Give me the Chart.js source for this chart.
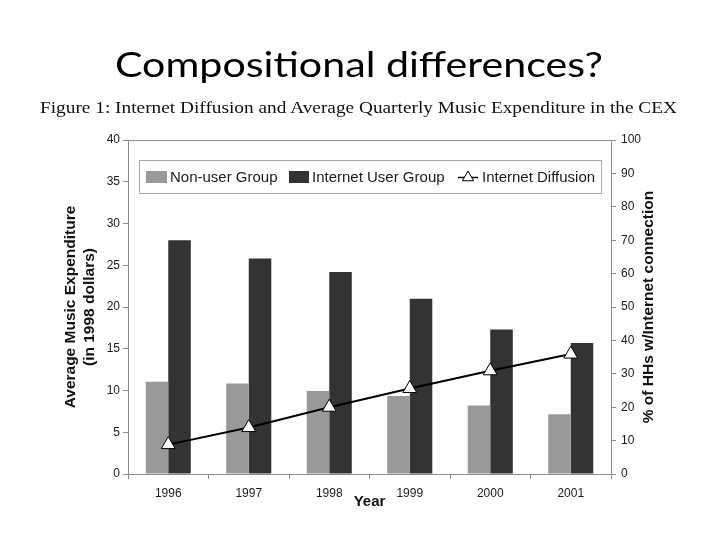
<!DOCTYPE html>
<html><head><meta charset="utf-8">
<script src="https://cdn.jsdelivr.net/npm/chart.js@4.4.0/dist/chart.umd.min.js"></script>
<style>
html,body{margin:0;padding:0;background:#fff;}
#wrap{position:relative;width:720px;height:540px;overflow:hidden;background:#fff;}
#c{position:absolute;left:0;top:0;}
#txt{position:absolute;left:0;top:0;pointer-events:none;}
</style></head>
<body><div id="wrap">
<canvas id="c" width="720" height="540"></canvas>
<svg id="txt" width="720" height="540" xmlns="http://www.w3.org/2000/svg">
  <text x="115" y="77" textLength="488" lengthAdjust="spacingAndGlyphs" font-family="Lato, 'Open Sans', sans-serif" font-size="34" fill="#000">Compositional differences?</text>
  <text x="40" y="113" textLength="637" lengthAdjust="spacingAndGlyphs" font-family="'Liberation Serif', 'DejaVu Serif', serif" font-size="17" fill="#111">Figure 1: Internet Diffusion and Average Quarterly Music Expenditure in the CEX</text>
</svg>
</div>
<script>
const years = ['1996', '1997', '1998', '1999', '2000', '2001'];
const nonUserGroup = [11.05, 10.85, 9.95, 9.35, 8.2, 7.15];
const internetUserGroup = [28.0, 25.8, 24.2, 21.0, 17.3, 15.7];
const internetDiffusion = [8.8, 13.9, 20.0, 25.6, 30.9, 35.9];
const leftTicks = {min: 0, max: 40, step: 5};
const rightTicks = {min: 0, max: 100, step: 10};
const seriesLabels = ['Non-user Group', 'Internet User Group', 'Internet Diffusion'];
const leftTitle = ['Average Music Expenditure', '(in 1998 dollars)'];
const rightTitle = '% of HHs w/Internet connection';
const xTitle = 'Year';

const SANS = "'Liberation Sans', Arial, sans-serif";
const AXIS = '#8c8c8c';

const decor = {
  id: 'decor',
  afterDraw(chart) {
    const ctx = chart.ctx;
    const a = chart.chartArea;
    const ds = chart.data.datasets;
    ctx.save();
    // top frame line
    ctx.strokeStyle = AXIS; ctx.lineWidth = 1;
    ctx.beginPath(); ctx.moveTo(a.left, Math.round(a.top) + 0.5); ctx.lineTo(a.right, Math.round(a.top) + 0.5); ctx.stroke();
    // legend box
    ctx.fillStyle = '#fff';
    ctx.fillRect(139.5, 160.5, 462, 33);
    ctx.strokeStyle = '#a8a8a8';
    ctx.strokeRect(139.5, 160.5, 462, 33);
    const cy = 177.5;
    ctx.font = '15px ' + SANS;
    ctx.textBaseline = 'middle';
    ctx.textAlign = 'left';
    ctx.fillStyle = ds[0].backgroundColor; ctx.fillRect(146, 171, 21, 12);
    ctx.fillStyle = '#1a1a1a'; ctx.fillText(ds[0].label, 170, cy);
    ctx.fillStyle = ds[1].backgroundColor; ctx.fillRect(289, 171, 20, 12);
    ctx.fillStyle = '#1a1a1a'; ctx.fillText(ds[1].label, 312, cy);
    ctx.strokeStyle = '#000'; ctx.lineWidth = 1.5;
    ctx.beginPath(); ctx.moveTo(458, cy); ctx.lineTo(478, cy); ctx.stroke();
    ctx.fillStyle = '#fff'; ctx.strokeStyle = '#000'; ctx.lineWidth = 1;
    Chart.helpers.drawPoint(ctx, {pointStyle: 'triangle', radius: 6.5, rotation: 0, borderWidth: 1}, 468, cy);
    ctx.fillStyle = '#1a1a1a'; ctx.fillText(ds[2].label, 482, cy);
    // right axis title (reads bottom-to-top)
    ctx.translate(649, (a.top + a.bottom) / 2);
    ctx.rotate(-Math.PI / 2);
    ctx.font = 'bold 15.5px ' + SANS;
    ctx.textAlign = 'center';
    ctx.fillStyle = '#111';
    ctx.fillText(rightTitle, 0, 0);
    ctx.restore();
  }
};

new Chart(document.getElementById('c'), {
  type: 'bar',
  data: {
    labels: years,
    datasets: [
      {type: 'bar', label: seriesLabels[0], data: nonUserGroup, backgroundColor: '#999999', yAxisID: 'y', order: 1, categoryPercentage: 0.56, barPercentage: 1},
      {type: 'bar', label: seriesLabels[1], data: internetUserGroup, backgroundColor: '#333333', yAxisID: 'y', order: 1, categoryPercentage: 0.56, barPercentage: 1},
      {type: 'line', label: seriesLabels[2], data: internetDiffusion, yAxisID: 'y1', order: 0,
       borderColor: '#000', borderWidth: 2, tension: 0, fill: false,
       pointStyle: 'triangle', pointRadius: 8, pointBackgroundColor: '#fff', pointBorderColor: '#000', pointBorderWidth: 1}
    ]
  },
  options: {
    responsive: false,
    animation: false,
    devicePixelRatio: 1,
    layout: {padding: {top: 140, left: 0, right: 0, bottom: 0}},
    plugins: {legend: {display: false}, tooltip: {enabled: false}, title: {display: false}},
    scales: {
      x: {
        grid: {display: true, drawOnChartArea: false, color: AXIS, tickLength: 5, offset: true},
        border: {display: true, color: AXIS},
        ticks: {font: {family: SANS, size: 12}, color: '#1a1a1a', padding: 7, maxRotation: 0},
        title: {display: true, text: xTitle, font: {family: SANS, size: 15, weight: 'bold'}, color: '#111', padding: {top: 0, bottom: 29}},
        afterFit: s => { s.height = 66; }
      },
      y: {
        position: 'left', min: leftTicks.min, max: leftTicks.max,
        grid: {display: true, drawOnChartArea: false, color: AXIS, tickLength: 5},
        border: {display: true, color: AXIS},
        ticks: {stepSize: leftTicks.step, font: {family: SANS, size: 12}, color: '#1a1a1a', padding: 3},
        title: {display: true, text: leftTitle, font: {family: SANS, size: 15.5, weight: 'bold'}, color: '#111', padding: {top: 61.7, bottom: 0}},
        afterFit: s => { s.width = 128; }
      },
      y1: {
        position: 'right', min: rightTicks.min, max: rightTicks.max,
        grid: {display: true, drawOnChartArea: false, color: AXIS, tickLength: 5},
        border: {display: true, color: AXIS},
        ticks: {stepSize: rightTicks.step, font: {family: SANS, size: 12}, color: '#1a1a1a', padding: 5},
        title: {display: false, text: rightTitle},
        afterFit: s => { s.width = 109; }
      }
    }
  },
  plugins: [decor]
});
</script>
</body></html>
